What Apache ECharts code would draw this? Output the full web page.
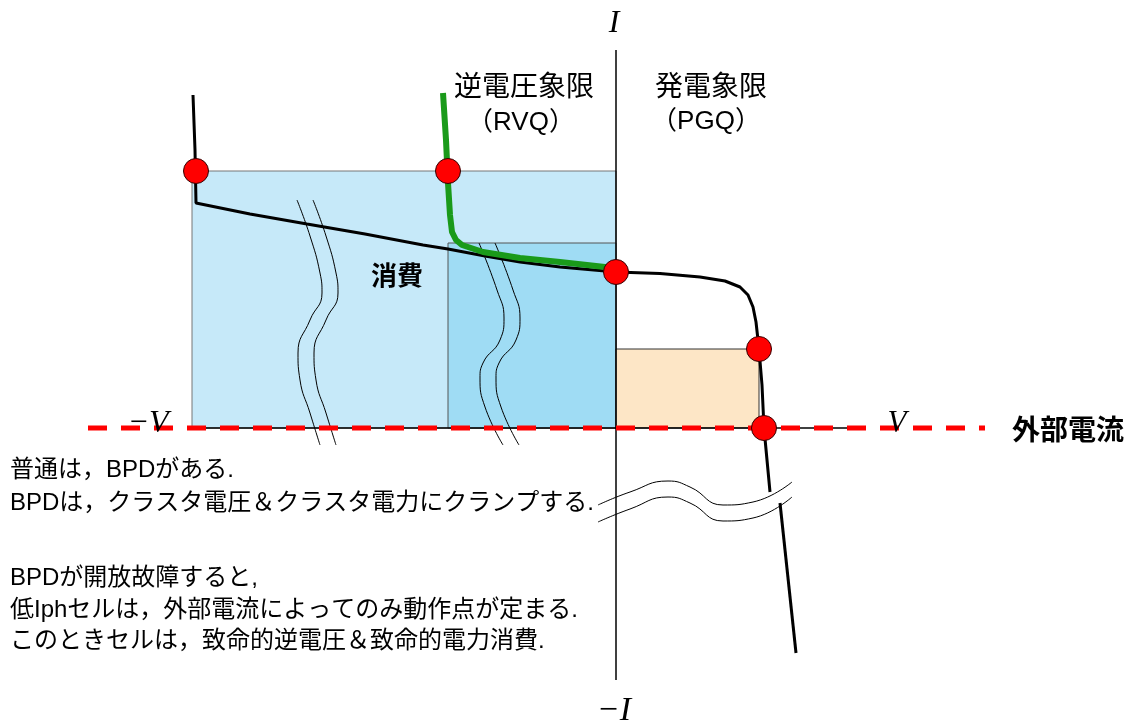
<!DOCTYPE html>
<html>
<head>
<meta charset="utf-8">
<script src="https://cdn.jsdelivr.net/npm/echarts@6/dist/echarts.min.js"></script>
<style>
  html, body { margin: 0; padding: 0; background: #fff; }
  #chart { width: 1134px; height: 726px; }
</style>
</head>
<body>
<div id="chart"></div>
<script>
// V / I diagram, values in arbitrary units (origin = operating point axes)
var normalCurve = [[-4.23, 3.33], [-4.21, 2.78], [-4.20, 2.25], [-4.18, 2.24], [-3.66, 2.14], [-3.09, 2.04],
    [-2.51, 1.94], [-1.93, 1.83], [-1.68, 1.79], [-1.31, 1.72], [-0.96, 1.66], [-0.56, 1.61], [-0.11, 1.57],
    [0, 1.56], [0.44, 1.545], [0.84, 1.51], [1.09, 1.47], [1.24, 1.41], [1.32, 1.33], [1.37, 1.21],
    [1.40, 1.06], [1.43, 0.79], [1.46, 0.43], [1.48, 0], [1.54, -0.64]];
var normalTail = [[1.64, -0.75], [1.80, -2.25]];
var reverseCurve = [[-1.73, 3.35], [-1.70, 2.88], [-1.68, 2.45], [-1.66, 2.13], [-1.64, 1.96], [-1.60, 1.88],
    [-1.54, 1.83], [-1.33, 1.76], [-0.96, 1.70], [-0.56, 1.66], [-0.11, 1.61], [0, 1.58]];
var operatingPoints = [[-4.20, 2.57], [-1.68, 2.57], [0, 1.56], [1.43, 0.79], [1.48, 0]];
// [v0, i0, v1, i1, kind]
var powerAreas = [[-4.24, 0, 0, 2.57, 0], [-1.68, 0, 0, 1.85, 1], [0, 0, 1.43, 0.79, 2]];
var iAxisLine = [[0, -2.52], [0, 3.78]];
var vAxisLine = [[-4.24, 0], [2.34, 0]];
var externalCurrent = [[-5.28, 0], [3.69, 0]];
var breakA1 = [[-3.19, 2.28], [-3.06, 1.92], [-2.96, 1.55], [-2.94, 1.35], [-3.06, 1.08], [-3.18, 0.75], [-3.16, 0.48], [-3.06, 0.15], [-2.96, -0.17]];
var breakA2 = [[-3.03, 2.28], [-2.90, 1.92], [-2.80, 1.55], [-2.78, 1.35], [-2.90, 1.08], [-3.02, 0.75], [-3.00, 0.48], [-2.90, 0.15], [-2.80, -0.17]];
var breakB1 = [[-1.37, 1.85], [-1.19, 1.38], [-1.12, 1.10], [-1.16, 0.88], [-1.33, 0.65], [-1.36, 0.50], [-1.31, 0.21], [-1.13, -0.17]];
var breakB2 = [[-1.21, 1.85], [-1.03, 1.38], [-0.96, 1.10], [-1.00, 0.88], [-1.17, 0.65], [-1.20, 0.50], [-1.15, 0.21], [-0.97, -0.17]];
var breakC1 = [[-0.18, -0.77], [0.14, -0.64], [0.52, -0.53], [0.74, -0.59], [1.07, -0.77], [1.37, -0.74], [1.76, -0.54]];
var breakC2 = [[-0.18, -0.94], [0.14, -0.81], [0.52, -0.69], [0.74, -0.75], [1.07, -0.93], [1.37, -0.90], [1.76, -0.69]];

var notes = ['普通は，BPDがある.', 'BPDは，クラスタ電圧＆クラスタ電力にクランプする.', '',
    'BPDが開放故障すると,', '低Iphセルは，外部電流によってのみ動作点が定まる.', 'このときセルは，致命的逆電圧＆致命的電力消費.'];

var jp = '"Liberation Sans", "Noto Sans CJK JP", sans-serif';
var serif = '"Liberation Serif", "DejaVu Serif", serif';
var areaFill = ['#c6e9f9', '#9fdcf4', '#fde6c6'];
var areaStroke = ['#777', '#555', '#333'];

function thinLine(data, extra) {
    var s = {
        type: 'line', data: data, symbol: 'none', silent: true, z: 4,
        lineStyle: {color: '#000', width: 1}
    };
    for (var k in extra) s[k] = extra[k];
    return s;
}

var chart = echarts.init(document.getElementById('chart'));
var noteY = [470, 503, 0, 578, 610, 641];
var graphics = [
    {type: 'text', x: 614, y: 24, style: {text: 'I', font: 'italic 32px ' + serif, fill: '#000', align: 'center', verticalAlign: 'middle'}},
    {type: 'text', x: 614, y: 711, style: {text: '−I', font: 'italic 34px ' + serif, fill: '#000', align: 'center', verticalAlign: 'middle'}},
    {type: 'text', x: 148, y: 424, z: 10, style: {text: '−V', font: 'italic 32px ' + serif, fill: '#000', align: 'center', verticalAlign: 'middle'}},
    {type: 'text', x: 897, y: 424, z: 10, style: {text: 'V', font: 'italic 31px ' + serif, fill: '#000', align: 'center', verticalAlign: 'middle'}},
    {type: 'text', x: 1068, y: 432, style: {text: '外部電流', font: 'bold 28px ' + jp, fill: '#000', align: 'center', verticalAlign: 'middle'}},
    {type: 'text', x: 524, y: 88, style: {text: '逆電圧象限', font: '28px ' + jp, fill: '#000', align: 'center', verticalAlign: 'middle'}},
    {type: 'text', x: 521, y: 123, style: {text: '（RVQ）', font: '26px ' + jp, fill: '#000', align: 'center', verticalAlign: 'middle'}},
    {type: 'text', x: 711, y: 88, style: {text: '発電象限', font: '28px ' + jp, fill: '#000', align: 'center', verticalAlign: 'middle'}},
    {type: 'text', x: 706, y: 122, style: {text: '（PGQ）', font: '26px ' + jp, fill: '#000', align: 'center', verticalAlign: 'middle'}},
    {type: 'text', x: 397, y: 278, z: 10, style: {text: '消費', font: 'bold 26px ' + jp, fill: '#000', align: 'center', verticalAlign: 'middle'}}
];
notes.forEach(function (t, i) {
    if (!t) return;
    graphics.push({type: 'text', x: 10, y: noteY[i], style: {text: t, font: '24px ' + jp, fill: '#000', align: 'left', verticalAlign: 'middle'}});
});

chart.setOption({
    animation: false,
    grid: {left: 0, right: 0, top: 0, bottom: 0},
    xAxis: {type: 'value', min: -6.16, max: 5.18, show: false},
    yAxis: {type: 'value', min: -2.98, max: 4.28, show: false},
    graphic: graphics,
    series: [
        {   // power rectangles
            type: 'custom', z: 1, silent: true, data: powerAreas,
            renderItem: function (params, api) {
                var p0 = api.coord([api.value(0), api.value(1)]);
                var p1 = api.coord([api.value(2), api.value(3)]);
                var k = api.value(4);
                return {
                    type: 'rect',
                    shape: {x: Math.min(p0[0], p1[0]), y: Math.min(p0[1], p1[1]),
                        width: Math.abs(p1[0] - p0[0]), height: Math.abs(p1[1] - p0[1])},
                    style: {fill: areaFill[k], stroke: areaStroke[k], lineWidth: 1}
                };
            }
        },
        thinLine(iAxisLine, {lineStyle: {color: '#000', width: 1.5}}),
        thinLine(vAxisLine, {lineStyle: {color: '#000', width: 1.5}}),
        thinLine(breakA1, {smooth: 0.5}),
        thinLine(breakA2, {smooth: 0.5}),
        thinLine(breakB1, {smooth: 0.5}),
        thinLine(breakB2, {smooth: 0.5}),
        thinLine(breakC1, {smooth: 0.5}),
        thinLine(breakC2, {smooth: 0.5}),
        thinLine(normalCurve, {z: 5, lineStyle: {color: '#000', width: 3}}),
        thinLine(normalTail, {z: 5, lineStyle: {color: '#000', width: 3}}),
        thinLine(reverseCurve, {z: 6, lineStyle: {color: '#1a9a1a', width: 6}}),
        thinLine(externalCurrent, {z: 7, lineStyle: {color: '#ff0000', width: 5, type: [19, 14]}}),
        {
            type: 'scatter', data: operatingPoints, z: 8, silent: true,
            symbolSize: 25,
            itemStyle: {color: '#ff0000', opacity: 1, borderColor: '#300', borderWidth: 1}
        }
    ]
});
</script>
</body>
</html>
